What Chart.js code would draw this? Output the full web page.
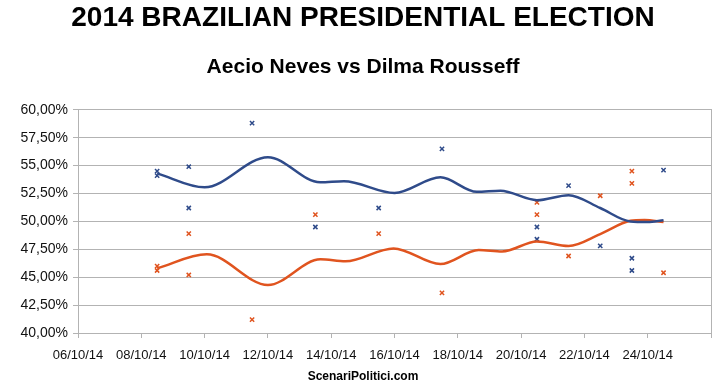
<!DOCTYPE html>
<html>
<head>
<meta charset="utf-8">
<script src="https://cdn.jsdelivr.net/npm/chart.js@4.4.0/dist/chart.umd.min.js"></script>
<style>
  html, body { margin: 0; padding: 0; background: #fff; }
  #wrap { width: 726px; height: 390px; }
</style>
</head>
<body>
<div id="wrap"><canvas id="myChart" width="726" height="390"></canvas></div>
<script>
// poll dates are days of October 2014 (x.5 = plotted mid-day)
const aecioDays = [8.5, 8.5, 9.5, 9.5, 11.5, 13.5, 15.5, 17.5, 20.5, 20.5, 21.5, 22.5, 23.5, 23.5, 24.5];
const aecioPolls = [54.5, 54.1, 54.9, 51.2, 58.8, 49.5, 51.2, 56.5, 49.5, 48.4, 53.2, 47.8, 46.7, 45.6, 54.6];
const dilmaDays = [8.5, 8.5, 9.5, 9.5, 11.5, 13.5, 15.5, 17.5, 20.5, 20.5, 21.5, 22.5, 23.5, 23.5, 24.5];
const dilmaPolls = [46.0, 45.6, 48.9, 45.2, 41.2, 50.6, 48.9, 43.6, 51.7, 50.6, 46.9, 52.3, 54.5, 53.4, 45.4];

// trend lines
const aecioTrendDays = [8.5, 10.0, 12.0, 13.65, 14.4, 16.0, 17.45, 18.6, 19.35, 20.5, 21.5, 22.5, 23.45, 24.0, 24.5];
const aecioTrend = [54.3, 53.05, 55.75, 53.5, 53.6, 52.55, 53.95, 52.65, 52.75, 51.9, 52.35, 51.2, 50.0, 49.95, 50.1];
const dilmaTrendDays = [8.5, 10.07, 12.0, 13.66, 14.45, 15.97, 17.45, 18.66, 19.4, 20.5, 21.5, 22.5, 23.45, 23.9, 24.5];
const dilmaTrend = [45.8, 47.05, 44.3, 46.6, 46.42, 47.58, 46.18, 47.43, 47.3, 48.2, 47.79, 48.86, 50.05, 50.13, 49.95];

const yTicks = [40, 42.5, 45, 47.5, 50, 52.5, 55, 57.5, 60];

const blue = "#2f4b8a";
const orange = "#e0541f";
const gridGray = "#b3b3b3";

const pts = (xs, ys) => ys.map((v, i) => ({ x: xs[i], y: v }));

// source credit under the axis, centred on the whole picture
const footer = {
  id: "footer",
  afterDraw(chart) {
    const c = chart.ctx;
    c.save();
    c.font = "bold 12px 'Liberation Sans', Arial, sans-serif";
    c.fillStyle = "#000";
    c.textAlign = "center";
    c.textBaseline = "middle";
    c.fillText("ScenariPolitici.com", chart.width / 2, 377);
    c.restore();
  },
};

const ctx = document.getElementById("myChart").getContext("2d");
Chart.defaults.font.family = "'Liberation Sans', Arial, sans-serif";
Chart.defaults.color = "#111";

new Chart(ctx, {
  type: "scatter",
  data: {
    datasets: [
      {
        label: "Aecio trend",
        data: pts(aecioTrendDays, aecioTrend),
        showLine: true,
        borderColor: blue,
        borderWidth: 2.5,
        pointRadius: 0,
        cubicInterpolationMode: "monotone",
      },
      {
        label: "Dilma trend",
        data: pts(dilmaTrendDays, dilmaTrend),
        showLine: true,
        borderColor: orange,
        borderWidth: 2.5,
        pointRadius: 0,
        cubicInterpolationMode: "monotone",
      },
      {
        label: "Aecio Neves",
        data: pts(aecioDays, aecioPolls),
        pointStyle: "crossRot",
        pointRadius: 3,
        borderColor: blue,
        borderWidth: 1.5,
      },
      {
        label: "Dilma Rousseff",
        data: pts(dilmaDays, dilmaPolls),
        pointStyle: "crossRot",
        pointRadius: 3,
        borderColor: orange,
        borderWidth: 1.5,
      },
    ],
  },
  plugins: [footer],
  options: {
    responsive: false,
    animation: false,
    layout: { padding: 0 },
    plugins: {
      legend: { display: false },
      tooltip: { enabled: false },
      title: {
        display: true,
        text: "2014 BRAZILIAN PRESIDENTIAL ELECTION",
        font: { size: 28, weight: "bold", lineHeight: 1.2 },
        color: "#000",
        padding: { top: 1, bottom: 10 },
      },
      subtitle: {
        display: true,
        text: "Aecio Neves vs Dilma Rousseff",
        font: { size: 21, weight: "bold", lineHeight: 1.2 },
        color: "#000",
        padding: { top: 10, bottom: 30 },
      },
    },
    scales: {
      x: {
        type: "linear",
        min: 6,
        max: 26,
        afterFit: (s) => { s.height = 57; },
        ticks: {
          stepSize: 2,
          padding: 10,
          font: { size: 13 },
          color: "#111",
          callback: (v) => (v >= 26 ? "" : String(v).padStart(2, "0") + "/10/14"),
          maxRotation: 0,
          autoSkip: false,
        },
        grid: { drawOnChartArea: false, color: gridGray, tickLength: 5 },
        border: { color: gridGray },
      },
      y: {
        min: 40,
        max: 60,
        afterFit: (s) => { s.width = 78; },
        afterBuildTicks: (s) => { s.ticks = yTicks.map((v) => ({ value: v })); },
        ticks: {
          padding: 5,
          font: { size: 14 },
          color: "#111",
          callback: (v) => v.toFixed(2).replace(".", ",") + "%",
        },
        grid: { color: gridGray, tickLength: 5 },
        border: { color: gridGray },
      },
      y2: {
        position: "right",
        min: 40,
        max: 60,
        afterFit: (s) => { s.width = 15; },
        ticks: { display: false },
        grid: { drawOnChartArea: false, drawTicks: false },
        border: { color: gridGray },
      },
    },
  },
});
</script>
</body>
</html>
